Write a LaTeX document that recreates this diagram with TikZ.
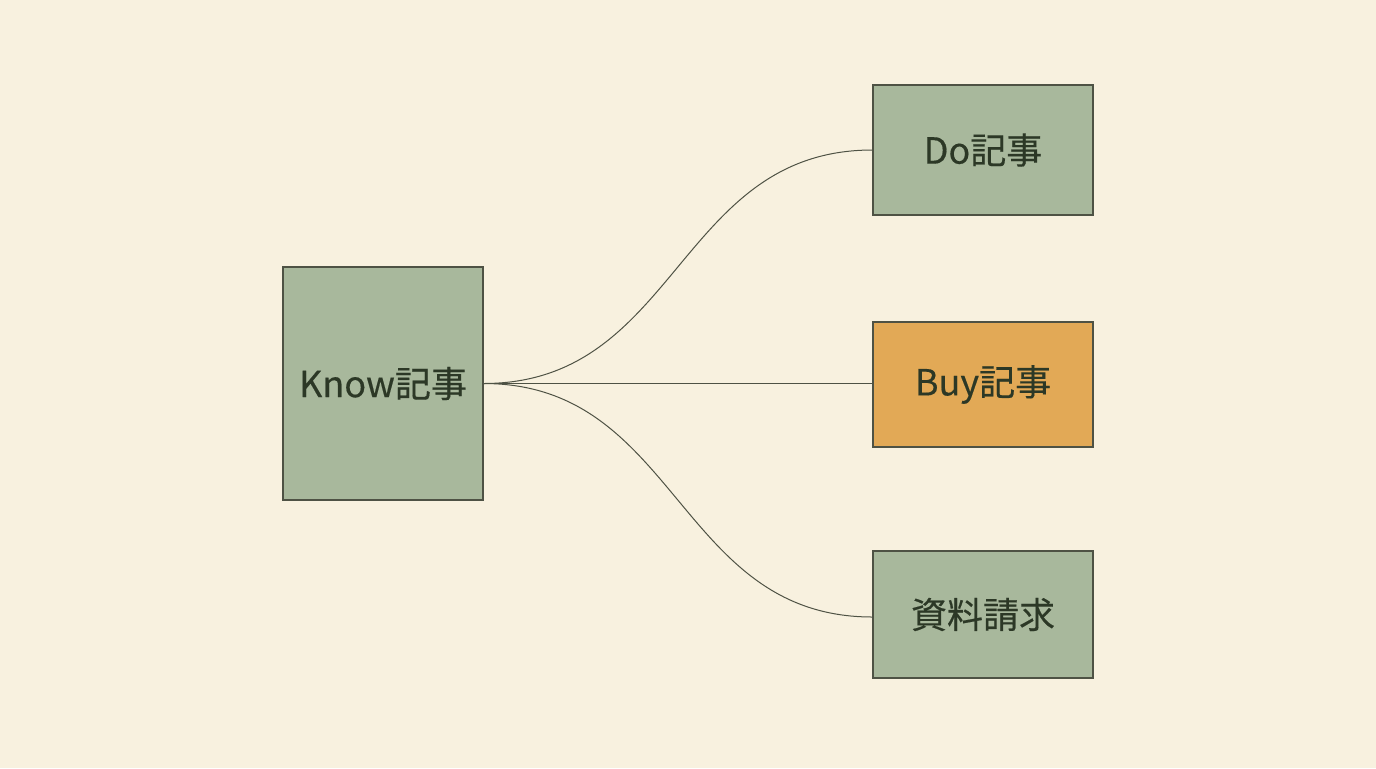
\documentclass[tikz,border=0pt]{standalone}
\usepackage{fontspec}
\setmainfont{Noto Sans CJK JP}
\newfontfamily\boxfont{Noto Sans CJK JP}[FakeBold=0.4]
\usetikzlibrary{positioning}
\definecolor{paper}{HTML}{F8F1DF}
\definecolor{sage}{HTML}{A8B89C}
\definecolor{ochre}{HTML}{E2A956}
\definecolor{edge}{HTML}{4E5244}
\definecolor{ink}{HTML}{2C3826}

\begin{document}
\begin{tikzpicture}[x=0.5pt, y=-0.5pt,
box/.style={draw=edge, line width=0.6pt, fill=sage, text=ink, inner sep=0pt,
  font=\boxfont\fontsize{18}{20}\selectfont},
link/.style={draw=edge, line width=0.5pt}]
\fill[paper] (0,0) rectangle (1376,768);
\useasboundingbox (0,0) rectangle (1376,768);
\node[box, minimum width=100pt, minimum height=116.5pt] (know) at (383,383.5) {Know記事};
\node[box, minimum width=110pt, minimum height=65pt] (do) at (983,150) {Do記事};
\node[box, fill=ochre, minimum width=110pt, minimum height=62.5pt] (buy) at (983,384.5) {Buy記事};
\node[box, minimum width=110pt, minimum height=63.5pt] (req) at (983,614.5) {資料請求};
\draw[link] (know.east) to[out=0, in=180, looseness=1.1] (do.west);
\draw[link] (know.east) -- (buy.west |- know.east);
\draw[link] (know.east) to[out=0, in=180, looseness=1.1] ([yshift=-1.25pt]req.west);
\end{tikzpicture}
\end{document}
